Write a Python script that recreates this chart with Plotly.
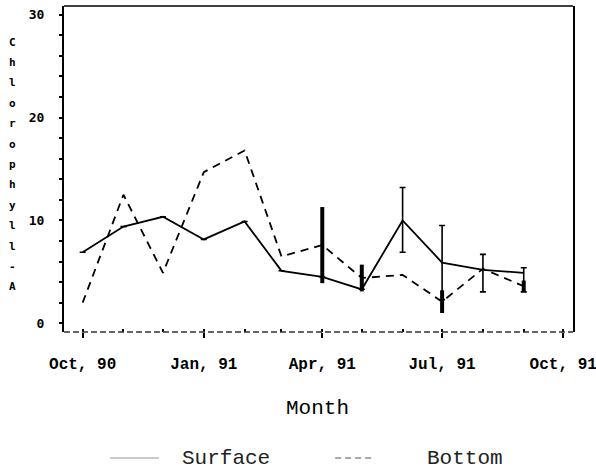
import plotly.graph_objects as go

# monthly samples, Oct 1990 - Sep 1991
months = ["1990-10-01", "1990-11-01", "1990-12-01", "1991-01-01", "1991-02-01", "1991-03-01",
          "1991-04-01", "1991-05-01", "1991-06-01", "1991-07-01", "1991-08-01", "1991-09-01"]
surface = [6.9, 9.4, 10.35, 8.15, 9.9, 5.1, 4.5, 3.3, 10.0, 5.9, 5.2, 4.9]
bottom = [2.0, 12.5, 4.9, 14.7, 16.8, 6.5, 7.6, 4.4, 4.7, 2.1, 5.3, 3.6]

surface_err_hi = [None, None, None, None, None, None, None, None, 3.2, 3.6, 1.5, 0.5]
surface_err_lo = [None, None, None, None, None, None, None, None, 3.1, 3.6, 2.15, 1.85]
bottom_err = [None, None, None, None, None, None, 3.7, 1.3, None, 1.1, None, 0.55]

y_title = "Chlorophyll-A"

PW, PH = 508.7, 326  # plot area size in px


def px(x, y):
    # pixel position in the page -> paper coords
    return (x - 64) / PW, 1 - (y - 6) / PH


fig = go.Figure()

fig.add_trace(go.Scatter(
    x=months, y=bottom, mode="lines", name="Bottom",
    line=dict(color="black", width=1.8, dash="8px,6px"),
    error_y=dict(type="data", array=bottom_err, symmetric=True,
                 color="black", thickness=4, width=0),
    showlegend=False,
))
fig.add_trace(go.Scatter(
    x=months, y=surface, mode="lines", name="Surface",
    line=dict(color="black", width=1.8),
    error_y=dict(type="data", array=surface_err_hi, arrayminus=surface_err_lo,
                 symmetric=False, color="black", thickness=1.6, width=3),
    showlegend=False,
))

# vertical stacked axis title
for i, ch in enumerate(y_title):
    ax, ay = px(13, 42 + 20.4 * i)
    fig.add_annotation(
        text=f"<b>{ch}</b>", xref="paper", yref="paper", x=ax, y=ay,
        xanchor="center", yanchor="middle", showarrow=False,
        font=dict(family="DejaVu Sans Mono", size=11, color="black"),
    )

ax, ay = px(317, 408)
fig.add_annotation(
    text="Month", xref="paper", yref="paper", x=ax, y=ay,
    xanchor="center", yanchor="middle", showarrow=False,
    font=dict(family="Liberation Mono", size=21, color="black"),
)

# legend
x0, ly = px(110, 458)
x1, _ = px(159, 458)
fig.add_shape(type="line", xref="paper", yref="paper", x0=x0, x1=x1, y0=ly, y1=ly,
              line=dict(color="#999", width=1))
x0, _ = px(335, 458)
x1, _ = px(373, 458)
fig.add_shape(type="line", xref="paper", yref="paper", x0=x0, x1=x1, y0=ly, y1=ly,
              line=dict(color="#555", width=1.2, dash="6px,4px"))
for label, lx in [("Surface", 226), ("Bottom", 465)]:
    fig.add_annotation(text=label, xref="paper", yref="paper", x=px(lx, 458)[0], y=ly,
                       xanchor="center", yanchor="middle", showarrow=False,
                       font=dict(family="Liberation Mono", size=21, color="#222"))

# top and bottom frame lines
fig.add_shape(type="line", xref="paper", yref="paper", x0=0, x1=1, y0=1, y1=1,
              line=dict(color="black", width=1.6))
fig.add_shape(type="line", xref="paper", yref="paper", x0=0, x1=1, y0=0, y1=0,
              line=dict(color="#333", width=1.4, dash="6px,3px"))

fig.update_layout(
    width=596, height=470,
    margin=dict(l=64, r=23, t=6, b=138),
    paper_bgcolor="white", plot_bgcolor="white",
    xaxis=dict(
        type="date", range=["1990-09-16 20:00", "1991-10-08 10:00"],
        dtick="M3", tick0="1990-10-01", tickformat="%b, %y",
        ticks="outside", ticklen=5, tickwidth=1.5, tickcolor="black",
        minor=dict(dtick="M1", ticks="inside", ticklen=3, tickcolor="black"),
        showgrid=False, zeroline=False, showline=False, automargin=False,
        tickfont=dict(family="Liberation Mono", size=16, color="black", weight="bold"),
        ticklabelstandoff=12, ticklabeloverflow="allow",
    ),
    yaxis=dict(
        range=[-0.85, 30.85], tickvals=[0, 10, 20, 30],
        ticks="outside", ticklen=3, tickwidth=1.5, tickcolor="black",
        minor=dict(dtick=2, tick0=0, ticks="outside", ticklen=3, tickcolor="black"),
        showgrid=False, zeroline=False, automargin=False,
        showline=True, linecolor="black", linewidth=2.2, mirror=True,
        tickfont=dict(family="DejaVu Sans Mono", size=13, color="black", weight="bold"),
        ticklabelstandoff=12,
    ),
)

fig.write_html("out.html", config={"displayModeBar": False},
               post_script="document.body.style.margin='0';")
